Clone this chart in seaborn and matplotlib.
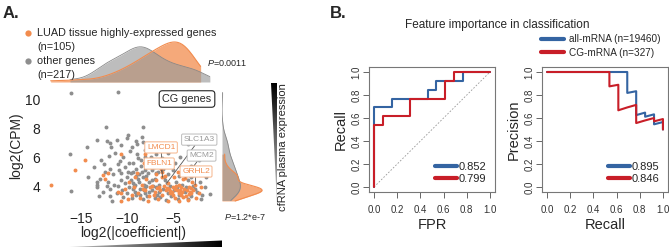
import numpy as np
import pandas as pd
import matplotlib
matplotlib.use("Agg")
import matplotlib.pyplot as plt
from matplotlib.patches import Polygon
from matplotlib.lines import Line2D
import seaborn as sns

# ---- panel A data: (log2|coef|, log2 CPM) ----
other_pts = [
    (-16.1, 10.4), (-11.0, 10.45), (-12.3, 8.1), (-8.3, 8.1), (-9.9, 7.5), (-13.3, 7.2),
    (-12.2, 7.1), (-11.1, 7.2), (-10.0, 7.3), (-11.8, 7.0), (-9.0, 7.1), (-8.3, 7.05),
    (-11.7, 6.7), (-14.4, 6.7), (-9.5, 6.7), (-16.2, 6.2), (-12.5, 5.5), (-11.0, 5.5),
    (-11.9, 5.2), (-16.1, 3.65), (-13.3, 4.1), (-13.3, 3.9), (-11.6, 3.0), (-13.3, 4.3),
    (-8.4, 7.4), (-8.9, 6.9),
    (-12.8, 5.8), (-12.0, 6.1), (-11.3, 6.3), (-10.4, 6.0), (-9.7, 6.4), (-8.9, 6.2),
    (-8.0, 6.5), (-7.4, 6.0), (-10.8, 5.7), (-9.3, 5.6), (-8.5, 5.8), (-7.8, 5.5),
    (-7.0, 5.7), (-6.2, 5.9), (-5.5, 6.3), (-4.8, 5.6), (-4.2, 6.0), (-12.4, 5.0),
    (-11.5, 4.8), (-10.9, 5.1), (-10.2, 5.3), (-9.6, 4.9), (-9.0, 5.2), (-8.4, 5.0),
    (-7.9, 4.7), (-7.3, 5.1), (-6.8, 4.9), (-6.1, 5.2), (-5.6, 4.8), (-5.0, 5.1),
    (-4.4, 4.7), (-3.8, 5.0), (-3.1, 4.6), (-2.5, 4.9), (-12.9, 4.5), (-12.1, 4.3),
    (-11.4, 4.1), (-10.7, 4.4), (-10.0, 4.6), (-9.4, 4.2), (-8.8, 4.5), (-8.2, 4.1),
    (-7.6, 4.3), (-7.0, 4.5), (-6.5, 4.1), (-5.9, 4.4), (-5.3, 4.0), (-4.7, 4.3),
    (-4.0, 4.1), (-3.4, 4.4), (-2.8, 4.0), (-2.1, 4.3), (-1.5, 3.9), (-12.6, 3.6),
    (-11.8, 3.8), (-11.1, 3.5), (-10.5, 3.7), (-9.8, 3.9), (-9.1, 3.6), (-8.6, 3.8),
    (-8.0, 3.5), (-7.3, 3.7), (-6.7, 3.4), (-6.1, 3.8), (-5.5, 3.5), (-4.9, 3.7),
    (-4.3, 3.4), (-3.7, 3.6), (-3.0, 3.3), (-2.4, 3.6), (-1.8, 3.4), (-1.0, 3.45),
    (-2.0, 3.1), (-9.5, 3.2), (-8.3, 3.1), (-7.0, 3.15), (-5.8, 3.05), (-4.5, 3.1),
    (-10.4, 3.25), (-11.9, 3.3), (-6.4, 3.25), (-3.4, 3.1), (-8.7, 4.8), (-7.2, 4.0),
    (-5.7, 5.5), (-9.9, 5.0), (-6.9, 6.2), (-5.0, 6.6), (-3.0, 5.4), (-2.2, 5.8),
    (-1.4, 4.6), (-13.6, 5.3), (-14.2, 4.6), (-10.6, 6.8), (-7.7, 6.8), (-6.0, 4.6),
    (-4.6, 3.9), (-8.1, 3.9), (-9.2, 4.0), (-11.0, 4.0), (-12.2, 4.0), (-3.6, 3.9),
    (-2.6, 3.8), (-6.5, 3.6), (-7.8, 3.3), (-5.2, 3.3), (-9.0, 3.4), (-13.0, 3.3),
    (-10.0, 3.5), (-3.37, 6.9), (-5.68, 4.2),
    (-9.6, 4.4), (-9.3, 5.0), (-9.0, 4.7), (-8.7, 4.3), (-8.5, 5.4), (-8.3, 4.6),
    (-8.1, 5.1), (-7.9, 4.0), (-7.7, 4.9), (-7.5, 5.6), (-7.3, 4.4), (-7.1, 5.3),
    (-9.8, 5.6), (-9.1, 4.1), (-8.8, 5.9), (-8.2, 3.7), (-7.6, 3.6), (-6.9, 3.9),
    (-10.2, 4.2), (-9.4, 3.8), (-8.0, 6.0), (-6.6, 5.0), (-10.6, 4.9), (-8.6, 3.4),
]
luad_pts = [
    (-18.3, 4.05), (-15.7, 5.1), (-14.6, 5.8), (-10.6, 6.2), (-12.6, 4.75), (-12.1, 4.9),
    (-12.4, 4.5), (-10.7, 2.97), (-10.7, 3.5), (-8.1, 6.2),
    (-9.8, 4.3), (-9.2, 3.9), (-8.8, 3.5), (-8.4, 4.1), (-8.0, 3.7), (-7.6, 3.3),
    (-7.3, 4.0), (-7.0, 3.6), (-6.8, 4.4), (-6.5, 3.9), (-6.2, 3.4), (-6.0, 4.0),
    (-5.8, 3.7), (-5.5, 4.2), (-5.3, 3.5), (-5.0, 3.9), (-4.8, 3.2), (-4.6, 3.7),
    (-4.3, 4.1), (-4.1, 3.4), (-3.8, 3.8), (-3.6, 3.3), (-3.3, 3.9), (-3.1, 3.5),
    (-2.8, 3.7), (-2.5, 3.2), (-2.9, 4.3), (-3.9, 4.5), (-4.9, 4.6), (-5.9, 4.7),
    (-6.9, 4.8), (-7.9, 4.5), (-8.9, 4.9), (-9.5, 3.4), (-10.2, 3.8), (-11.0, 3.6),
    (-7.7, 3.0), (-6.6, 3.1), (-5.6, 3.0), (-4.4, 3.0), (-3.4, 3.05), (-8.6, 3.2),
    (-9.9, 3.1), (-6.3, 5.2), (-5.2, 5.4), (-4.5, 5.0), (-3.7, 4.8), (-7.4, 5.3),
    (-8.2, 5.6), (-6.15, 4.6), (-6.2, 4.94), (-2.6, 4.07), (-5.7, 3.85), (-4.0, 3.6),
    (-6.4, 3.7), (-7.1, 3.4), (-5.1, 3.6), (-4.7, 4.0), (-3.2, 3.6), (-2.2, 3.5),
    (-2.0, 3.9), (-8.3, 3.8), (-9.1, 4.6), (-6.7, 3.85), (-5.4, 3.8), (-4.2, 3.75),
    (-7.5, 3.9), (-5.0, 3.4), (-3.7, 4.55),
    (-4.4, 3.55), (-3.9, 3.25), (-3.5, 3.7), (-4.8, 3.8), (-3.0, 3.85), (-5.3, 3.65),
    (-4.1, 3.95), (-3.3, 3.45),
]
gene_names = ["LMCD1", "FBLN1", "SLC1A3", "MCM2", "GRHL2"]
gene_x = [-6.15, -6.2, -5.68, -3.7, -2.6]
gene_y = [4.6, 4.94, 4.2, 4.55, 4.07]
gene_is_luad = [True, True, False, False, True]

# ---- panel B data ----
roc_fpr_all = [0, 0, 0.154, 0.154, 0.462, 0.462, 0.538, 0.538, 0.769, 0.769, 1.0]
roc_tpr_all = [0, 0.692, 0.692, 0.769, 0.769, 0.846, 0.846, 0.923, 0.923, 1.0, 1.0]
roc_fpr_cg = [0, 0, 0.077, 0.077, 0.308, 0.308, 0.615, 0.615, 0.692, 0.692, 1.0]
roc_tpr_cg = [0, 0.538, 0.538, 0.615, 0.615, 0.769, 0.769, 0.923, 0.923, 1.0, 1.0]
pr_rec_all = [0, 0.692, 0.692, 0.692, 0.769, 0.769, 0.769, 0.769, 0.769, 0.846, 0.846,
              0.923, 0.923, 0.923, 0.923, 1.0, 1.0, 1.0, 1.0]
pr_prec_all = [1.0, 1.0, 0.90, 0.818, 0.833, 0.769, 0.714, 0.667, 0.625, 0.647, 0.611,
               0.632, 0.60, 0.571, 0.545, 0.565, 0.542, 0.52, 0.50]
pr_rec_cg = [0, 0.538, 0.538, 0.615, 0.615, 0.615, 0.615, 0.692, 0.769, 0.769, 0.769,
             0.769, 0.769, 0.846, 0.923, 0.923, 1.0, 1.0, 1.0, 1.0, 1.0]
pr_prec_cg = [1.0, 1.0, 0.875, 0.889, 0.80, 0.727, 0.667, 0.692, 0.714, 0.667, 0.625,
              0.588, 0.556, 0.579, 0.60, 0.571, 0.591, 0.565, 0.542, 0.52, 0.50]
roc_auc = ["0.852", "0.799"]
pr_auc = ["0.895", "0.846"]
series_names = ["all-mRNA (n=19460)", "CG-mRNA (n=327)"]

ORANGE = "#F28C4E"
GRAY = "#8E8E8E"
BLUE = "#3464A2"
RED = "#C81E28"

sns.set_theme(style="white")
plt.rcParams["font.family"] = ["Liberation Sans", "DejaVu Sans"]
plt.rcParams["mathtext.fontset"] = "custom"
plt.rcParams["mathtext.it"] = "Liberation Sans:italic"
plt.rcParams["mathtext.rm"] = "Liberation Sans"

W, H = 669, 248
fig = plt.figure(figsize=(W / 100, H / 100), dpi=100)


def rect(x0, y0, x1, y1):
    return [x0 / W, 1 - y1 / H, (x1 - x0) / W, (y1 - y0) / H]


df = pd.concat([
    pd.DataFrame(other_pts, columns=["coef", "cpm"]).assign(grp="other"),
    pd.DataFrame(luad_pts, columns=["coef", "cpm"]).assign(grp="luad"),
], ignore_index=True)
oth = df[df.grp == "other"]
lua = df[df.grp == "luad"]

# scatter
ax = fig.add_axes(rect(44.2, 87.4, 221.8, 203.4))
sns.scatterplot(data=oth, x="coef", y="cpm", color=GRAY, s=8, linewidth=0, ax=ax)
sns.scatterplot(data=lua, x="coef", y="cpm", color=ORANGE, s=8, linewidth=0, ax=ax)
ax.set_xlim(-19, 0.3)
ax.set_ylim(2.8, 10.8)
ax.set_xticks([-15, -10, -5])
ax.set_yticks([4, 6, 8, 10])
ax.tick_params(length=0, labelsize=10, labelcolor="#222")
ax.tick_params(axis="x", pad=6)
ax.tick_params(axis="y", pad=3)
ax.set_xlabel("log2(|coefficient|)", fontsize=10, labelpad=0)
ax.set_ylabel("log2(CPM)", fontsize=10, labelpad=1)
sns.despine(ax=ax, left=True, bottom=True)

label_pos = {"LMCD1": (-6.3, 6.66), "FBLN1": (-6.5, 5.55), "SLC1A3": (-2.15, 7.2),
             "MCM2": (-1.9, 6.1), "GRHL2": (-2.5, 5.0)}
for name, gx, gy, luad in zip(gene_names, gene_x, gene_y, gene_is_luad):
    c = ORANGE if luad else "#9A9A9A"
    ec = "#F6B48A" if luad else "#BBBBBB"
    ax.annotate(name, xy=(gx, gy), xytext=label_pos[name], fontsize=6, color=c,
                ha="center", va="center",
                bbox=dict(boxstyle="round,pad=0.25,rounding_size=0.15", fc="white", ec=ec, lw=0.7),
                arrowprops=dict(arrowstyle="-", color="#555", lw=0.6, shrinkA=0, shrinkB=0))

# top density
axt = fig.add_axes(rect(44.2, 40, 221.8, 82))
sns.kdeplot(x=lua.coef, fill=True, color=ORANGE, alpha=0.75, lw=0, cut=0, ax=axt)
sns.kdeplot(x=oth.coef, fill=True, color="#9A9A9A", alpha=0.65, lw=0, cut=0, ax=axt)
sns.kdeplot(x=oth.coef, color="#888", lw=0.6, cut=0, ax=axt)
sns.kdeplot(x=lua.coef, color=ORANGE, lw=0.8, cut=0, ax=axt)
axt.set_xlim(-19, 0.3)
axt.set_ylim(bottom=0)
axt.axis("off")

# right density
axr = fig.add_axes(rect(222, 87.4, 264, 203.4))
sns.kdeplot(y=lua.cpm, fill=True, color=ORANGE, alpha=0.75, lw=0, cut=0, bw_adjust=0.8, ax=axr)
sns.kdeplot(y=oth.cpm, fill=True, color="#9A9A9A", alpha=0.65, lw=0, cut=0, ax=axr)
sns.kdeplot(y=oth.cpm, color="#888", lw=0.6, cut=0, ax=axr)
sns.kdeplot(y=lua.cpm, color=ORANGE, lw=0.8, cut=0, bw_adjust=0.8, ax=axr)
axr.set_ylim(2.8, 10.8)
axr.set_xlim(left=0)
axr.axis("off")

# ROC and PR
for pos, xs, ys, aucs, xl, yl in [
    (rect(369.4, 67.4, 494.6, 191.6), (roc_fpr_all, roc_fpr_cg), (roc_tpr_all, roc_tpr_cg), roc_auc, "FPR", "Recall"),
    (rect(542.4, 67.4, 667.6, 191.6), (pr_rec_all, pr_rec_cg), (pr_prec_all, pr_prec_cg), pr_auc, "Recall", "Precision"),
]:
    a = fig.add_axes(pos)
    if xl == "FPR":
        a.plot([0, 1], [0, 1], ls=(0, (2, 2)), color="#999", lw=0.6)
    for x, y, c in zip(xs, ys, (BLUE, RED)):
        sns.lineplot(x=x, y=y, sort=False, estimator=None, color=c, lw=1.5, ax=a)
    a.set_xlim(-0.04, 1.04)
    a.set_ylim(-0.04, 1.04)
    ticks = [0, 0.2, 0.4, 0.6, 0.8, 1.0]
    a.set_xticks(ticks)
    a.set_xticklabels([f"{t:.1f}" for t in ticks])
    a.set_yticks(ticks)
    a.set_yticklabels([f"{t:.1f}" for t in ticks], rotation=90, va="center")
    a.tick_params(direction="out", length=4, width=0.7, color="#666", labelcolor="#333", labelsize=7)
    a.tick_params(axis="x", pad=6, bottom=True)
    a.tick_params(axis="y", pad=1.5, left=True)
    for s in a.spines.values():
        s.set_color("#777")
        s.set_linewidth(0.8)
    a.set_xlabel(xl, fontsize=10.5, labelpad=2)
    a.set_ylabel(yl, fontsize=10.5, labelpad=3)
    hs = [Line2D([], [], color=c, lw=3) for c in (BLUE, RED)]
    a.legend(hs, aucs, loc="lower right", frameon=False, fontsize=8, handlelength=2.0,
             handletextpad=0.2, labelspacing=0.2, borderaxespad=0.3)

hs = [Line2D([], [], color=c, lw=3) for c in (BLUE, RED)]
fig.legend(hs, series_names, loc="upper left", bbox_to_anchor=(541 / W, 1 - 34 / H), frameon=False,
           fontsize=7.2, handlelength=2.3, handletextpad=0.5, labelspacing=0.35, borderaxespad=0, borderpad=0)

# overlay in pixel coordinates for texts and gradient wedges
ov = fig.add_axes([0, 0, 1, 1], zorder=10)
ov.set_xlim(0, W)
ov.set_ylim(H, 0)
ov.axis("off")
ov.text(3, 14, "A.", fontsize=12, fontweight="bold", va="center")
ov.text(330, 14, "B.", fontsize=12, fontweight="bold", va="center")
ov.text(497, 25, "Feature importance in classification", fontsize=8.5, ha="center", va="center")
ov.plot([28], [33], "o", color=ORANGE, ms=4.5, mec="none")
ov.plot([28], [61], "o", color=GRAY, ms=4.5, mec="none")
for y, t in [(33, "LUAD tissue highly-expressed genes"), (47, "(n=105)"), (61, "other genes"), (75, "(n=217)")]:
    ov.text(37, y, t, fontsize=7.8, va="center")
ov.text(207, 63, "$P$=0.0011", fontsize=6.5, va="center")
ov.text(224, 217, "$P$=1.2*e-7", fontsize=6.5, va="center")
ov.text(187, 99, "CG genes", fontsize=7.8, ha="center", va="center",
        bbox=dict(boxstyle="round,pad=0.3,rounding_size=0.3", fc="white", ec="#222", lw=0.8))
ov.text(283.5, 147, "cfRNA plasma expression", fontsize=8, rotation=90, ha="center", va="center")

gh = np.linspace(0.3, 1, 256)[None, :]
im = ov.imshow(gh, extent=(58, 222, 247.5, 240.5), cmap="Greys", vmin=0, vmax=1, aspect="auto")
p = Polygon([(58, 247.5), (222, 240.5), (222, 247.5)], transform=ov.transData, fc="none", ec="none")
ov.add_patch(p)
im.set_clip_path(p)
gv = np.linspace(1, 0.3, 256)[:, None]
im2 = ov.imshow(gv, extent=(270.5, 276.5, 205, 83), cmap="Greys", vmin=0, vmax=1, aspect="auto")
p2 = Polygon([(270.5, 83), (276.5, 83), (276.5, 205)], transform=ov.transData, fc="none", ec="none")
ov.add_patch(p2)
im2.set_clip_path(p2)
ov.set_xlim(0, W)
ov.set_ylim(H, 0)

fig.savefig("out.png", dpi=100)
